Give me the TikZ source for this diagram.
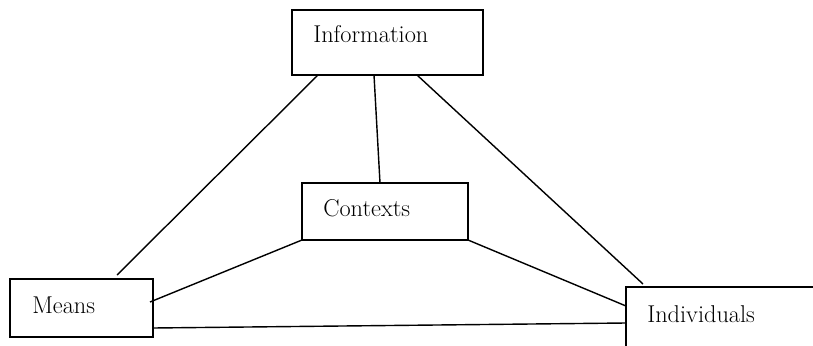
\documentclass[tikz,border=0pt]{standalone}
\usetikzlibrary{positioning}
\tikzset{
    box/.style={draw, line width=1pt, inner sep=0pt, outer sep=0pt, anchor=north west},
    word/.style={anchor=base west, inner sep=0pt, font=\fontsize{17.3}{20}\selectfont},
    link/.style={line width=1pt}
}
\begin{document}
\begin{tikzpicture}
            \clip (0,0) rectangle (20.325,8.625);

            \node[box, minimum width=4.775cm, minimum height=1.625cm] (info) at (7.3,8.375) {};
            \node[box, minimum width=4.15cm, minimum height=1.425cm] (ctx) at (7.55,4.05) {};
            \node[box, minimum width=3.575cm, minimum height=1.45cm] (means) at (0.25,1.65) {};
            \node[box, minimum width=5.5cm, minimum height=2cm] (indiv) at (15.65,1.45) {};

            \node[word] (infotext) at ([xshift=0.525cm,yshift=-0.825cm]info.north west) {Information};
            \node[word] (ctxtext) at ([xshift=0.525cm,yshift=-0.825cm]ctx.north west) {Contexts};
            \node[word] (meanstext) at ([xshift=0.55cm,yshift=-0.85cm]means.north west) {Means};
            \node[word] (indivtext) at ([xshift=0.525cm,yshift=-0.875cm]indiv.north west) {Individuals};

            \draw[link] ([xshift=0.65cm]info.south west) -- ([xshift=2.675cm,yshift=0.1cm]means.north west);
            \draw[link] ([xshift=2.05cm]info.south west) -- ([xshift=1.95cm]ctx.north west);
            \draw[link] ([xshift=3.125cm]info.south west) -- ([xshift=0.425cm,yshift=0.075cm]indiv.north west);

            \draw[link] (ctx.south west) -- ([xshift=-0.075cm,yshift=-0.575cm]means.north east);
            \draw[link] (ctx.south east) -- ([yshift=-0.475cm]indiv.north west);
            \draw[link] ([yshift=-1.225cm]means.north east) -- ([yshift=-0.9cm]indiv.north west);
        \end{tikzpicture}
\end{document}
